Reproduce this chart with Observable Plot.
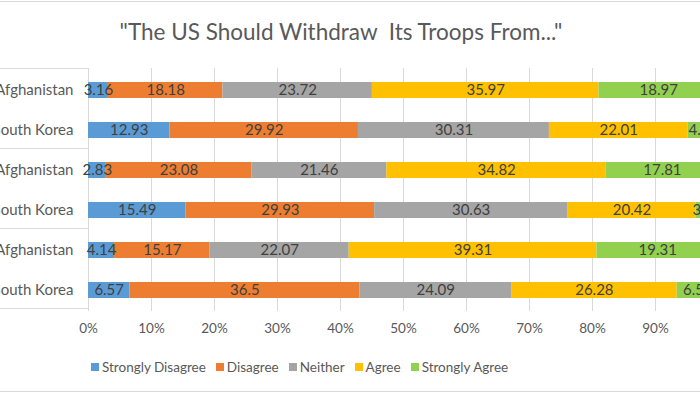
<!DOCTYPE html>
<html>
<head>
<meta charset="utf-8">
<script src="https://cdn.jsdelivr.net/npm/d3@7"></script>
<script src="https://cdn.jsdelivr.net/npm/@observablehq/plot@0.6"></script>
<style>
  html, body { margin: 0; padding: 0; background: #fff; }
  #wrap { position: relative; width: 700px; height: 394px; overflow: hidden; font-family: Lato, "Open Sans", sans-serif; background: #fff; }
  #border { position: absolute; left: -2px; top: 1px; width: 704px; height: 391px; border-top: 1px solid #d9d9d9; border-bottom: 1px solid #d9d9d9; box-sizing: border-box; }
  #title { position: absolute; left: 0; width: 682px; top: 18px; text-align: center; font-size: 22.5px; color: #595959; white-space: pre; }
  #chart { position: absolute; left: 0; top: 60px; }
  #legend { position: absolute; left: 91px; top: 359px; display: flex; gap: 10px; font-size: 13.5px; color: #595959; white-space: nowrap; }
  #legend span.item { display: inline-flex; align-items: center; }
  #legend span.sw { display: inline-block; width: 8px; height: 8px; margin-right: 3px; }
</style>
</head>
<body>
<div id="wrap">
  <div id="border"></div>
  <div id="title"></div>
  <div id="chart"></div>
  <div id="legend"></div>
</div>
<script>
const titleText = "\"The US Should Withdraw  Its Troops From...\"";
const categories = ["Strongly Disagree", "Disagree", "Neither", "Agree", "Strongly Agree"];
const colors = ["#5B9BD5", "#ED7D31", "#A5A5A5", "#FFC000", "#92D050"];
const groups = ["1", "1", "2", "2", "3", "3"];
const countries = ["Afghanistan", "South Korea", "Afghanistan", "South Korea", "Afghanistan", "South Korea"];
const stronglyDisagree = [3.16, 12.93, 2.83, 15.49, 4.14, 6.57];
const disagree = [18.18, 29.92, 23.08, 29.93, 15.17, 36.5];
const neither = [23.72, 30.31, 21.46, 30.63, 22.07, 24.09];
const agree = [35.97, 22.01, 34.82, 20.42, 39.31, 26.28];
const stronglyAgree = [18.97, 4.83, 17.81, 3.53, 19.31, 6.56];
const xTicks = [0, 10, 20, 30, 40, 50, 60, 70, 80, 90, 100];

const series = [stronglyDisagree, disagree, neither, agree, stronglyAgree];
const rows = countries.map((c, i) => groups[i] + "|" + c);
const data = [];
rows.forEach((r, i) => {
  categories.forEach((cat, j) => {
    data.push({row: r, category: cat, value: series[j][i]});
  });
});

document.getElementById("title").textContent = titleText;

const plot = Plot.plot({
  width: 700,
  height: 280,
  marginTop: 8,
  marginBottom: 29,
  marginLeft: 88,
  marginRight: 0,
  style: {fontFamily: "Lato, 'Open Sans', sans-serif", overflow: "hidden", background: "transparent"},
  x: {domain: [0, 100], range: [88, 718]},
  y: {domain: rows, paddingInner: 0.6, paddingOuter: 0.3},
  color: {domain: categories, range: colors},
  marks: [
    Plot.gridX(xTicks, {stroke: "#d9d9d9", strokeOpacity: 1, strokeWidth: 1}),
    Plot.barX(data, Plot.stackX({x: "value", y: "row", fill: "category", z: "category"})),
    Plot.text(data, Plot.stackX({x: "value", y: "row", z: "category", text: d => String(d.value), fill: "#404040", fontSize: 15})),
    Plot.axisX(xTicks, {tickSize: 0, tickPadding: 12, tickFormat: d => d + "%", fontSize: 13.5, fill: "#595959", label: null}),
    Plot.axisY({tickSize: 0, tickPadding: 15, tickFormat: d => d.split("|")[1], fontSize: 15, fill: "#595959", label: null})
  ]
});

// left category box drawn from the y/x scales
const ys = plot.scale("y");
const xs = plot.scale("x");
const top0 = ys.range[0];
const step = ys.step;
const x0 = xs.apply(0);
const g = d3.select(plot).append("g").attr("stroke", "#d9d9d9").attr("stroke-width", 1);
[0, 2, 4, 6].forEach(k => {
  const yy = Math.round(top0 + k * step) + 0.5;
  g.append("line").attr("x1", 0).attr("x2", x0).attr("y1", yy).attr("y2", yy);
});
document.getElementById("chart").appendChild(plot);

const legend = document.getElementById("legend");
categories.forEach((c, i) => {
  const it = document.createElement("span");
  it.className = "item";
  const sw = document.createElement("span");
  sw.className = "sw";
  sw.style.background = colors[i];
  it.appendChild(sw);
  it.appendChild(document.createTextNode(c));
  legend.appendChild(it);
});
</script>
</body>
</html>
